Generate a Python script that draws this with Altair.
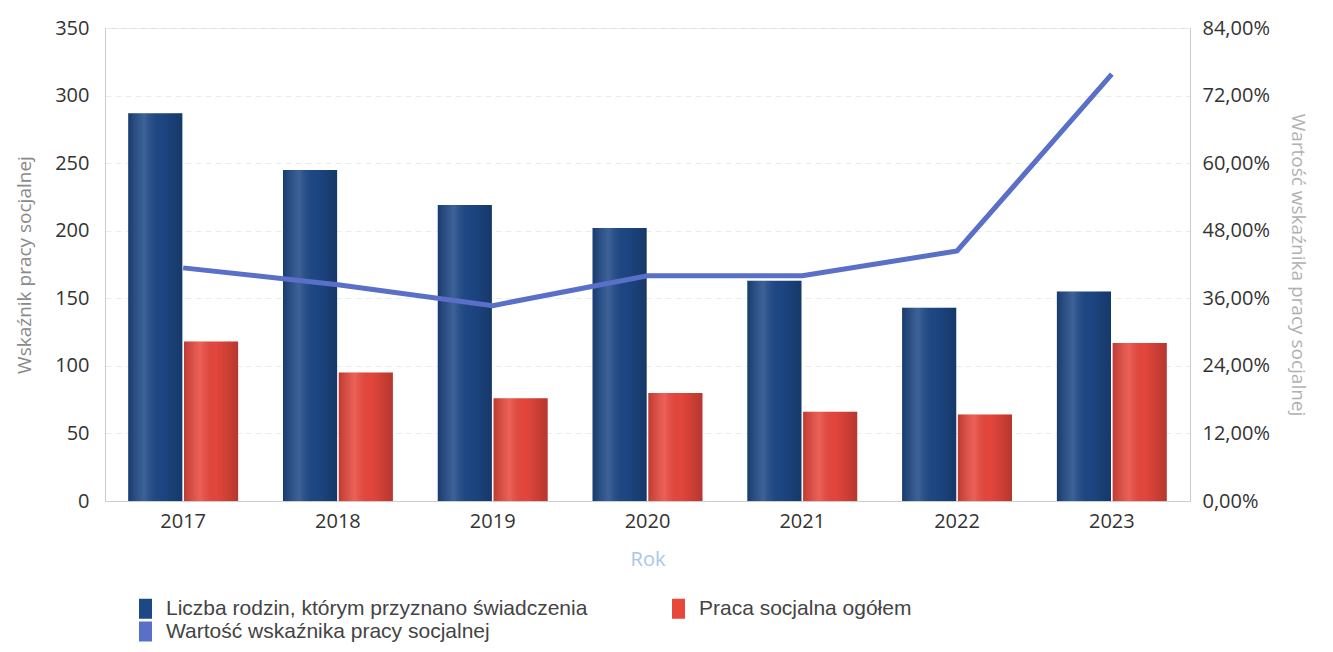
import altair as alt
import pandas as pd

years = ["2017", "2018", "2019", "2020", "2021", "2022", "2023"]
liczba_rodzin = [287, 245, 219, 202, 163, 143, 155]
praca_socjalna = [118, 95, 76, 80, 66, 64, 117]
wskaznik_pct = [41.4, 38.4, 34.7, 40.0, 40.0, 44.4, 75.8]

S_L = "Liczba rodzin, którym przyznano świadczenia"
S_P = "Praca socjalna ogółem"
S_W = "Wartość wskaźnika pracy socjalnej"

left_ticks = [0, 50, 100, 150, 200, 250, 300, 350]
right_ticks = [0, 12, 24, 36, 48, 60, 72, 84]

bar_df = pd.DataFrame(
    [{"year": y, "series": S_L, "value": v} for y, v in zip(years, liczba_rodzin)]
    + [{"year": y, "series": S_P, "value": v} for y, v in zip(years, praca_socjalna)]
)
line_df = pd.DataFrame({"year": years, "wsk": wskaznik_pct, "series": S_W})

FONT = "Open Sans"

color = alt.Color(
    "series:N",
    scale=alt.Scale(domain=[S_L, S_P, S_W], range=["#1d4886", "#e8473c", "#5a6fc8"]),
    legend=alt.Legend(
        title=None, orient="none", legendX=30, legendY=570, columns=2, direction="horizontal",
        columnPadding=80, rowPadding=1, labelFontSize=21, labelFont="Liberation Sans",
        labelColor="#444444", symbolType="M-0.65,-1H0.65V1H-0.65Z", symbolSize=400,
        symbolStrokeWidth=0, labelLimit=700, labelOffset=10,
    ),
)

x_enc = alt.X(
    "year:N",
    sort=years,
    scale=alt.Scale(paddingInner=0.29, paddingOuter=0.15),
    axis=alt.Axis(
        title="Rok", labelAngle=0, labelFontSize=20, labelColor="#333333", labelFont=FONT,
        titleFontSize=20, titleColor="#a9c6ea", titleFont=FONT, titleFontWeight="normal",
        titlePadding=18, labelPadding=10, ticks=False, domainColor="#cccccc",
    ),
)
xoff = alt.XOffset("series:N", scale=alt.Scale(domain=[S_L, S_P], paddingInner=0.03))
y_left = alt.Y(
    "value:Q",
    scale=alt.Scale(domain=[0, 350]),
    axis=alt.Axis(
        values=left_ticks, title="Wskaźnik pracy socjalnej", labelFontSize=20,
        labelColor="#333333", labelFont=FONT, titleFontSize=19, titleColor="#8a8a8a",
        titleFont=FONT, titleFontWeight="normal", titlePadding=20, labelPadding=16,
        ticks=False, domainColor="#cccccc", gridColor="#ebebeb", gridDash=[6, 4],
    ),
)

bars = alt.Chart(bar_df).mark_bar().encode(x=x_enc, xOffset=xoff, y=y_left, color=color)

shade = alt.Chart(bar_df).mark_bar(
    fill=alt.Gradient(
        gradient="linear", x1=0, x2=1, y1=0, y2=0,
        stops=[
            alt.GradientStop(offset=0, color="rgba(0,0,0,0.18)"),
            alt.GradientStop(offset=0.3, color="rgba(255,255,255,0.14)"),
            alt.GradientStop(offset=0.6, color="rgba(0,0,0,0.02)"),
            alt.GradientStop(offset=1, color="rgba(0,0,0,0.22)"),
        ],
    )
).encode(x=x_enc, xOffset=xoff, y=y_left)

line = alt.Chart(line_df).mark_line(strokeWidth=5).encode(
    x=x_enc,
    y=alt.Y(
        "wsk:Q",
        scale=alt.Scale(domain=[0, 84]),
        axis=alt.Axis(
            orient="right", values=right_ticks, grid=False,
            labelExpr="replace(format(datum.value, '.2f'), '.', ',') + '%'",
            title="Wartość wskaźnika pracy socjalnej", labelFontSize=20,
            labelColor="#333333", labelFont=FONT, titleFontSize=19, titleColor="#b0b0b0",
            titleFont=FONT, titleFontWeight="normal", titlePadding=18, labelPadding=12,
            ticks=False, domainColor="#cccccc",
        ),
    ),
    color=color,
)

chart = (
    alt.layer(alt.layer(bars, shade), line)
    .resolve_scale(y="independent")
    .properties(width=1085, height=473, padding={"left": 7, "top": 10, "right": 8, "bottom": 0})
    .configure_view(stroke=None)
    .configure(background="white")
)

chart.save("out.html", embed_options={"renderer": "svg", "actions": False})
